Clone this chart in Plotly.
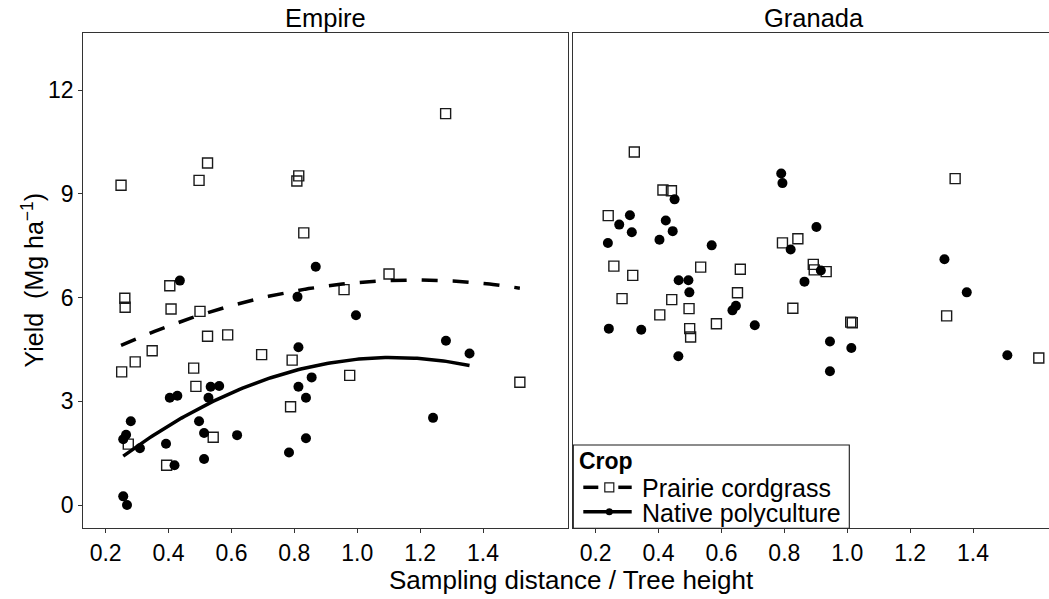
import numpy as np
import plotly.graph_objects as go

# Yield vs. relative sampling distance, by site and crop
# Empire - Prairie cordgrass
emp_pc_x = [0.249, 0.524, 0.497, 0.814, 0.808, 0.830, 0.404, 0.261, 0.262, 0.408,
            0.500, 0.524, 0.588, 0.348, 0.294, 0.251, 0.696, 0.793, 0.480, 0.487,
            0.788, 0.272, 0.542, 0.394, 1.281, 1.101, 0.958, 0.976, 1.517]
emp_pc_y = [9.25, 9.89, 9.39, 9.52, 9.37, 7.87, 6.34, 5.98, 5.72, 5.67,
            5.60, 4.88, 4.92, 4.46, 4.14, 3.85, 4.35, 4.19, 3.96, 3.43,
            2.84, 1.76, 1.96, 1.15, 11.32, 6.68, 6.23, 3.75, 3.55]

# Empire - Native polyculture
emp_np_x = [0.868, 0.436, 0.810, 0.813, 0.855, 0.813, 0.837, 0.534, 0.561, 0.404,
            0.428, 0.527, 0.280, 0.497, 0.513, 0.618, 0.837, 0.265, 0.256, 0.309,
            0.392, 0.419, 0.513, 0.783, 0.256, 0.268, 0.996, 1.282, 1.357, 1.241]
emp_np_y = [6.89, 6.49, 6.02, 4.56, 3.69, 3.42, 3.10, 3.42, 3.44, 3.10,
            3.16, 3.10, 2.42, 2.42, 2.08, 2.02, 1.93, 2.03, 1.90, 1.64,
            1.77, 1.15, 1.33, 1.52, 0.25, 0.00, 5.49, 4.75, 4.38, 2.52]

# Granada - Prairie cordgrass
gra_pc_x = [0.323, 0.414, 0.441, 0.240, 0.794, 0.843, 0.258, 0.318, 0.534, 0.660,
            0.892, 0.895, 0.933, 0.284, 0.442, 0.497, 0.651, 0.404, 0.584, 0.499,
            0.502, 0.827, 1.011, 1.016, 1.343, 1.316, 1.609]
gra_pc_y = [10.21, 9.11, 9.09, 8.37, 7.58, 7.70, 6.91, 6.64, 6.88, 6.82,
            6.96, 6.80, 6.75, 5.97, 5.94, 5.68, 6.14, 5.50, 5.24, 5.10,
            4.86, 5.69, 5.29, 5.27, 9.44, 5.47, 4.25]

# Granada - Native polyculture
gra_np_x = [0.790, 0.794, 0.451, 0.309, 0.275, 0.423, 0.315, 0.445, 0.239, 0.403,
            0.569, 0.902, 0.820, 0.464, 0.495, 0.498, 0.646, 0.635, 0.864, 0.916,
            0.242, 0.345, 0.706, 0.463, 0.945, 1.013, 0.945, 1.309, 1.380, 1.509]
gra_np_y = [9.59, 9.31, 8.84, 8.38, 8.11, 8.23, 7.89, 7.92, 7.58, 7.67,
            7.51, 8.04, 7.39, 6.50, 6.50, 6.15, 5.76, 5.63, 6.46, 6.78,
            5.10, 5.07, 5.20, 4.30, 4.73, 4.54, 3.87, 7.11, 6.15, 4.33]

crops = ["Prairie cordgrass", "Native polyculture"]
x_ticks = [0.2, 0.4, 0.6, 0.8, 1.0, 1.2, 1.4]
y_ticks = [0, 3, 6, 9, 12]

FONT = "Liberation Sans, Arial, sans-serif"
W, H = 1049, 599
INK = "#1a1a1a"
FRAME = "#333333"


def quad_fit(x, y, n=120):
    """Second-order polynomial least-squares fit over the observed x span."""
    c = np.polyfit(np.asarray(x), np.asarray(y), 2)
    xs = np.linspace(min(x), max(x), n)
    return xs, np.polyval(c, xs)


def px(v):
    return v / W


def py(v):
    return (H - v) / H


fig = go.Figure()

sq = dict(symbol="square-open", size=10, color=INK, line=dict(width=1.4, color=INK))
dot = dict(symbol="circle", size=10, color="black", line=dict(width=0))

fig.add_trace(go.Scatter(x=emp_pc_x, y=emp_pc_y, mode="markers", marker=sq, name=crops[0],
                         xaxis="x", yaxis="y", showlegend=False, hoverinfo="skip"))
fig.add_trace(go.Scatter(x=emp_np_x, y=emp_np_y, mode="markers", marker=dot, name=crops[1],
                         xaxis="x", yaxis="y", showlegend=False, hoverinfo="skip"))
fig.add_trace(go.Scatter(x=gra_pc_x, y=gra_pc_y, mode="markers", marker=sq, name=crops[0],
                         xaxis="x2", yaxis="y2", showlegend=False, hoverinfo="skip"))
fig.add_trace(go.Scatter(x=gra_np_x, y=gra_np_y, mode="markers", marker=dot, name=crops[1],
                         xaxis="x2", yaxis="y2", showlegend=False, hoverinfo="skip"))

# quadratic trends for the Empire site
fx, fy = quad_fit(emp_pc_x, emp_pc_y)
fig.add_trace(go.Scatter(x=fx, y=fy, mode="lines", line=dict(color="black", width=3.5, dash="16px,15px"),
                         xaxis="x", yaxis="y", showlegend=False, hoverinfo="skip"))
fx, fy = quad_fit(emp_np_x, emp_np_y)
fig.add_trace(go.Scatter(x=fx, y=fy, mode="lines", line=dict(color="black", width=3.5),
                         xaxis="x", yaxis="y", showlegend=False, hoverinfo="skip"))

left = (83.3, 568.3)
right = (573.3, 1049)
top, bottom = 32.7, 528.3
x_range = [0.129, 1.671]
x2_range = [0.129, 0.129 + (right[1] - right[0]) / (left[1] - left[0]) * (x_range[1] - x_range[0])]
y_range = [-0.674, 13.66]

axis_common = dict(showgrid=False, zeroline=False, showline=True, linecolor=FRAME,
                   linewidth=1.1, ticks="outside", ticklen=4, tickwidth=1, tickcolor=FRAME,
                   tickfont=dict(family=FONT, size=23, color="black"))

# ---- legend box (bottom-left of the Granada panel) ----
lg = dict(x0=573.3, x1=849.3, y0=445, y1=528.3)
key_x0, key_x1, key_mid = 583.3, 631.7, 609.3
row_y = [487.3, 511.7]
text_x = 640.5

shapes = [
    dict(type="rect", xref="paper", yref="paper", layer="above",
         x0=px(lg["x0"]), x1=px(lg["x1"]), y0=py(lg["y1"]), y1=py(lg["y0"]),
         fillcolor="white", line=dict(color=INK, width=1.1)),
    # dashed key: two dash segments around an open square
    dict(type="line", xref="paper", yref="paper", layer="above",
         x0=px(key_x0), x1=px(598.3), y0=py(row_y[0]), y1=py(row_y[0]),
         line=dict(color="black", width=3.5)),
    dict(type="line", xref="paper", yref="paper", layer="above",
         x0=px(618.3), x1=px(key_x1), y0=py(row_y[0]), y1=py(row_y[0]),
         line=dict(color="black", width=3.5)),
    dict(type="rect", xref="paper", yref="paper", layer="above",
         x0=px(key_mid - 4.5), x1=px(key_mid + 4.5), y0=py(row_y[0] + 4.5), y1=py(row_y[0] - 4.5),
         fillcolor="white", line=dict(color=INK, width=1.2)),
    # solid key with a filled dot
    dict(type="line", xref="paper", yref="paper", layer="above",
         x0=px(key_x0), x1=px(key_x1), y0=py(row_y[1]), y1=py(row_y[1]),
         line=dict(color="black", width=3.5)),
    dict(type="circle", xref="paper", yref="paper", layer="above",
         x0=px(key_mid - 3.5), x1=px(key_mid + 3.5), y0=py(row_y[1] + 3.5), y1=py(row_y[1] - 3.5),
         fillcolor="black", line=dict(color="black", width=0)),
]

annotations = [
    dict(text="Empire", x=px((left[0] + left[1]) / 2), y=py(18.5), xref="paper", yref="paper",
         showarrow=False, xanchor="center", yanchor="middle", font=dict(size=25.5, family=FONT)),
    dict(text="Granada", x=px(814), y=py(18.5), xref="paper", yref="paper",
         showarrow=False, xanchor="center", yanchor="middle", font=dict(size=25.5, family=FONT)),
    dict(text="Sampling distance / Tree height", x=px(571), y=py(580), xref="paper", yref="paper",
         showarrow=False, xanchor="center", yanchor="middle", font=dict(size=26, family=FONT)),
    dict(text="Yield\u00a0\u00a0(Mg\u00a0ha<sup>−1</sup>)", x=px(32), y=py(280.5), xref="paper", yref="paper",
         textangle=-90, showarrow=False, xanchor="center", yanchor="middle",
         font=dict(size=25, family=FONT)),
    dict(text="<b>Crop</b>", x=px(577.5), y=py(461), xref="paper", yref="paper",
         showarrow=False, xanchor="left", yanchor="middle", borderpad=0,
         font=dict(size=23, family=FONT)),
    dict(text=crops[0], x=px(text_x), y=py(488.3), xref="paper", yref="paper",
         showarrow=False, xanchor="left", yanchor="middle", borderpad=0,
         font=dict(size=25, family=FONT)),
    dict(text=crops[1], x=px(text_x), y=py(512.8), xref="paper", yref="paper",
         showarrow=False, xanchor="left", yanchor="middle", borderpad=0,
         font=dict(size=25, family=FONT)),
]

fig.update_layout(
    width=W, height=H, autosize=False,
    margin=dict(l=0, r=0, t=0, b=0),
    paper_bgcolor="white", plot_bgcolor="white",
    font=dict(family=FONT, color="black"),
    showlegend=False,
    xaxis=dict(domain=[px(left[0]), px(left[1])], range=x_range, anchor="y",
               tickvals=x_ticks, ticktext=[f"{v:.1f}" for v in x_ticks], mirror=True, **axis_common),
    yaxis=dict(domain=[py(bottom), py(top)], range=y_range, anchor="x",
               tickvals=y_ticks, mirror=True, **axis_common),
    xaxis2=dict(domain=[px(right[0]), 1.0], range=x2_range, anchor="y2",
                tickvals=x_ticks, ticktext=[f"{v:.1f}" for v in x_ticks], mirror=True, **axis_common),
    yaxis2=dict(domain=[py(bottom), py(top)], range=y_range, anchor="x2",
                showgrid=False, zeroline=False, showline=True, linecolor=FRAME, linewidth=1.1,
                showticklabels=False, ticks=""),
    shapes=shapes,
    annotations=annotations,
)

fig.write_html("out.html")
